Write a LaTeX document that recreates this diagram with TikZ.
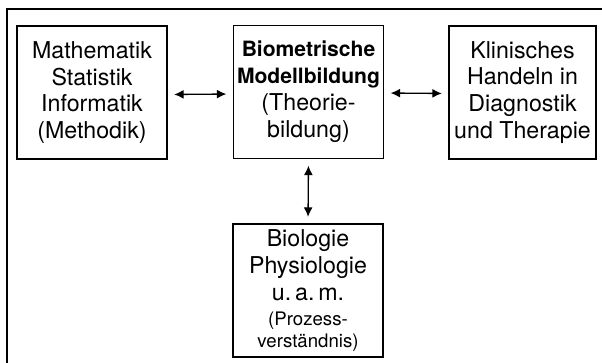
\documentclass[tikz,border=0pt]{standalone}
\usepackage{fontspec}
\setmainfont{TeX Gyre Heros}
\usetikzlibrary{arrows.meta}

\begin{document}
\begin{tikzpicture}[
    box/.style={draw,line width=0.75pt,minimum width=3cm,minimum height=2.66cm,
        inner sep=0pt,align=center,font=\fontsize{13.2}{15.3}\selectfont},
    link/.style={{Latex[length=1.9mm,width=1.8mm]}-{Latex[length=1.9mm,width=1.8mm]},
        line width=0.75pt,shorten <=0.13cm,shorten >=0.13cm}]
            \useasboundingbox (0,0) rectangle (12.04,7.24);
            \clip (0,0) rectangle (12.04,7.24);
            % outer frame, cut off at the right and at the bottom
            \draw[line width=0.75pt] (0.14,-1) rectangle (13,7.06);
            \node[box] (methodik) at (1.84,5.39) {Mathematik\\Statistik\\Informatik\\(Methodik)};
            \node[box] (modell) at (6.17,5.4) {{\bfseries\fontsize{12}{15.3}\selectfont Biometrische}\\
                {\bfseries\fontsize{12}{15.3}\selectfont Modellbildung}\\(Theorie-\\bildung)};
            \node[box,minimum width=2.94cm] (klinik) at (10.45,5.39) {Klinisches\\Handeln in\\Diagnostik\\und Therapie};
            \node[box] (biologie) at (6.16,1.43) {Biologie\\Physiologie\\u.\,a.\,m.\\[-1pt]
                {\fontsize{10.6}{12.5}\selectfont (Prozess-}\\[-2.5pt]{\fontsize{10.6}{12.5}\selectfont verständnis)}};
            \draw[link] ([yshift=-0.04cm]methodik.east) -- ([yshift=-0.04cm]modell.west);
            \draw[link] ([yshift=-0.02cm]modell.east) -- ([yshift=-0.02cm]klinik.west);
            \draw[link] (modell.south) -- (biologie.north);
        \end{tikzpicture}
\end{document}
